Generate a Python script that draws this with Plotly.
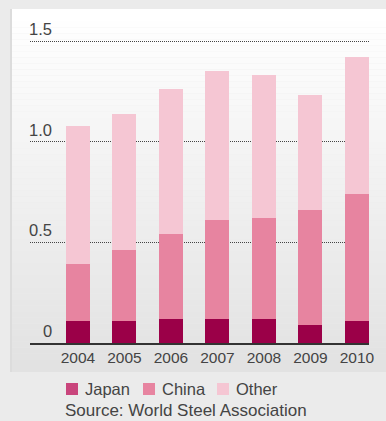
import plotly.graph_objects as go

years = ["2004", "2005", "2006", "2007", "2008", "2009", "2010"]
japan = [0.11, 0.11, 0.12, 0.12, 0.12, 0.09, 0.11]
china = [0.28, 0.35, 0.42, 0.49, 0.50, 0.57, 0.63]
other = [0.69, 0.68, 0.72, 0.74, 0.71, 0.57, 0.68]
series_names = ["Japan", "China", "Other"]
bar_colors = ["#9b0048", "#e784a0", "#f5c6d3"]
legend_colors = ["#c9457c", "#e784a0", "#f5c6d3"]
y_ticks = [0, 0.5, 1.0, 1.5]
y_tick_labels = ["0", "0.5", "1.0", "1.5"]
source_text = "Source: World Steel Association"

FONT = "Liberation Sans, Arial, sans-serif"
W, H = 386, 421
ML, MR, MT, MB = 30, 17, 37, 78
PW, PH = W - ML - MR, H - MT - MB
YMAX = 1.52


def px_x(px):
    return (px - ML) / PW


def px_y(py):
    return (H - MB - py) / PH


fig = go.Figure()
for name, vals, col in zip(series_names, [japan, china, other], bar_colors):
    fig.add_trace(go.Bar(x=years, y=vals, name=name, marker_color=col,
                         marker_line_width=0, showlegend=False, hoverinfo="skip"))

shapes = []
# gradient panel background
top, bot, left = 9, 372, 11
n = 60
for i in range(n):
    t = i / (n - 1)
    c = int(round(255 - t * (255 - 226)))
    y0 = top + (bot - top) * i / n
    y1 = top + (bot - top) * (i + 1) / n
    shapes.append(dict(type="rect", xref="paper", yref="paper", layer="below",
                       x0=px_x(left), x1=px_x(W + 2), y0=px_y(y1), y1=px_y(y0),
                       fillcolor=f"rgb({c},{c},{c})", line_width=0))
shapes.append(dict(type="line", xref="paper", yref="paper", layer="below",
                   x0=px_x(left), x1=px_x(left), y0=px_y(bot), y1=px_y(top),
                   line=dict(color="#dcdcdc", width=2)))

annotations = []
for v, lab in zip(y_ticks, y_tick_labels):
    annotations.append(dict(xref="paper", yref="y", x=px_x(54), y=v, text=lab,
                            xanchor="right", yanchor="bottom", yshift=1, showarrow=False,
                            font=dict(family=FONT, size=16.5, color="#444444")))

# legend
sq_x = [66, 143, 217]
txt_x = [85, 162, 236]
for name, col, sx, tx in zip(series_names, legend_colors, sq_x, txt_x):
    shapes.append(dict(type="rect", xref="paper", yref="paper",
                       x0=px_x(sx), x1=px_x(sx + 12), y0=px_y(395), y1=px_y(383),
                       fillcolor=col, line_width=0))
    annotations.append(dict(xref="paper", yref="paper", x=px_x(tx - 2), y=px_y(389),
                            text=name, xanchor="left", yanchor="middle", showarrow=False,
                            font=dict(family=FONT, size=16.5, color="#444444")))
annotations.append(dict(xref="paper", yref="paper", x=px_x(64), y=px_y(421),
                        text=source_text, xanchor="left", yanchor="bottom", showarrow=False,
                        borderpad=0,
                        font=dict(family=FONT, size=17, color="#444444")))

fig.update_layout(
    width=W, height=H, autosize=False,
    margin=dict(l=ML, r=MR, t=MT, b=MB, pad=0),
    paper_bgcolor="#ebebeb", plot_bgcolor="rgba(0,0,0,0)",
    barmode="stack", bargap=0.484,
    shapes=shapes, annotations=annotations,
    xaxis=dict(type="category", range=[-1.03, 6.26], showgrid=False,
               showline=True, linecolor="#333333", linewidth=1.5,
               ticks="", tickfont=dict(family=FONT, size=15.5, color="#444444"),
               fixedrange=True),
    yaxis=dict(range=[0, YMAX], tickvals=[0.5, 1.0, 1.5], showticklabels=False,
               showgrid=True, gridcolor="#444444", griddash="1px,1px", gridwidth=1,
               zeroline=False, fixedrange=True),
    showlegend=False,
)

fig.write_html("out.html", config={"displayModeBar": False},
               post_script="document.body.style.margin='0';document.body.style.overflow='hidden';")
